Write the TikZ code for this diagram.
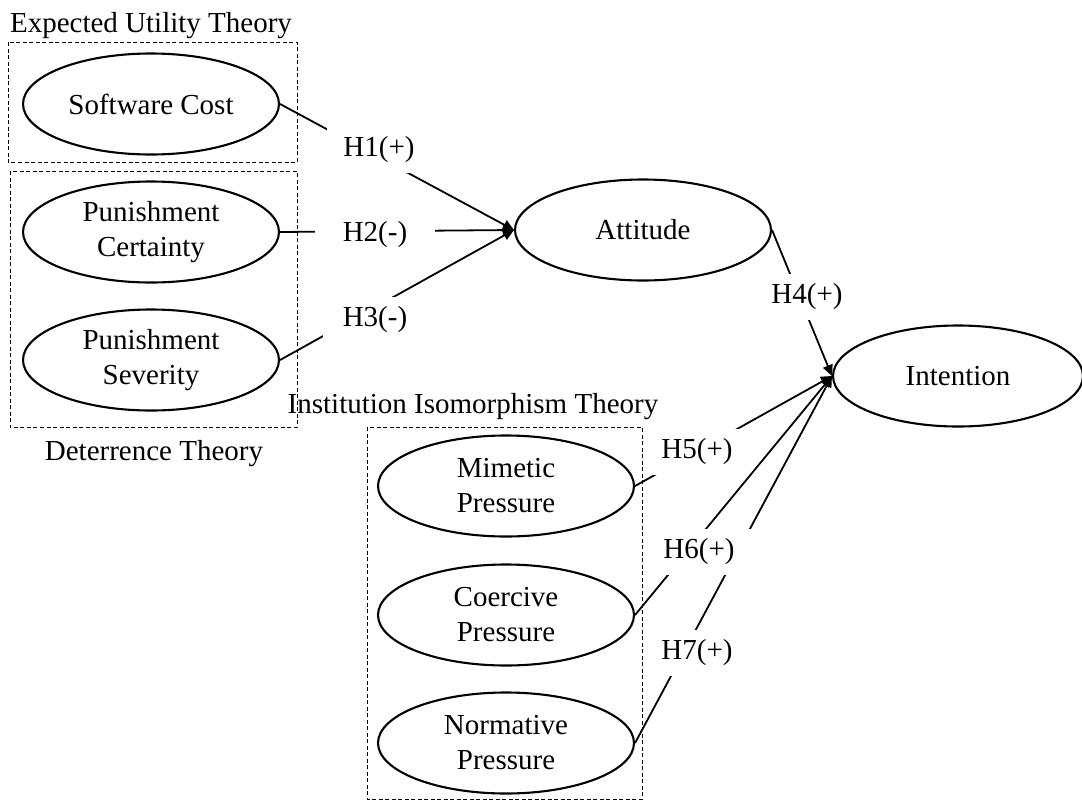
\documentclass[tikz,border=0pt]{standalone}
\usepackage{fontspec}
\setmainfont{Liberation Serif}
\usetikzlibrary{arrows.meta,shapes.geometric}
\begin{document}
\begin{tikzpicture}[x=1pt,y=-1pt,
  every node/.style={font=\fontsize{29}{35}\selectfont},
  construct/.style={draw, ellipse, line width=2.1pt, minimum width=256pt, minimum height=101pt, inner sep=0pt, align=center},
  group/.style={draw, line width=1pt, dash pattern=on 4pt off 2.5pt},
  link/.style={line width=1.8pt},
  arr/.style={link, -{Triangle[length=11pt,width=10pt]}},
  hyp/.style={fill=white, minimum width=104pt, minimum height=46pt, inner sep=0pt},
  title/.style={anchor=base, inner sep=0pt}]
\useasboundingbox (0,0) rectangle (1082,801);

% group boxes
\draw[group] (8,42) rectangle (297,162);
\draw[group] (10,171) rectangle (297,427);
\draw[group] (367,427) rectangle (642,799);

% group titles
\node[title] (t1) at (151,32) {Expected Utility Theory};
\node[title] (t2) at (154,460) {Deterrence Theory};
\node[title] (t3) at (473,413) {Institution Isomorphism Theory};

% constructs
\node[construct] (sc) at (151,104) {Software Cost};
\node[construct] (pc) at (151,232) {Punishment\\Certainty};
\node[construct] (ps) at (151,360) {Punishment\\Severity};
\node[construct] (att) at (643,230) {Attitude};
\node[construct, minimum width=250pt] (int) at (958,376) {Intention};
\node[construct] (mp) at (506,486) {Mimetic\\Pressure};
\node[construct] (cp) at (506,615) {Coercive\\Pressure};
\node[construct] (np) at (506,743) {Normative\\Pressure};

% paths
\draw[arr] (sc.east) -- (att.west);
\draw[arr] (pc.east) -- (att.west);
\draw[arr] (ps.east) -- (att.west);
\draw[arr] (att.east) -- (int.west);
\draw[arr] (mp.east) -- (int.west);
\draw[arr] (cp.east) -- (int.west);
\draw[arr] (np.east) -- (int.west);

% hypothesis labels
\node[hyp] (h1) at (379,150) {H1(+)};
\node[hyp, minimum width=120pt] (h2) at (375,235) {H2(-)};
\node[hyp] (h3) at (375,320) {H3(-)};
\node[hyp] (h4) at (807,297) {H4(+)};
\node[hyp] (h5) at (697,452) {H5(+)};
\node[hyp] (h6) at (699,552) {H6(+)};
\node[hyp] (h7) at (697,653) {H7(+)};
\end{tikzpicture}
\end{document}
